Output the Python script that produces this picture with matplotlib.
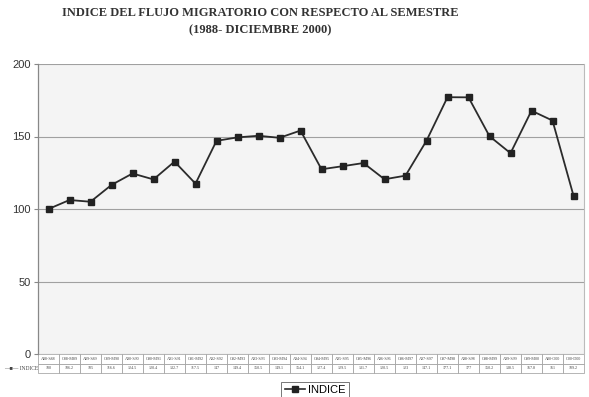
import matplotlib
matplotlib.use("Agg")
import matplotlib.pyplot as plt
from matplotlib.lines import Line2D

categories = ["A88-S88", "O88-M89", "A89-S89", "O89-M90", "A90-S90", "O90-M91",
              "A91-S91", "O91-M92", "A92-S92", "O92-M93", "A93-S93", "O93-M94",
              "A94-S94", "O94-M95", "A95-S95", "O95-M96", "A96-S96", "O96-M97",
              "A97-S97", "O97-M98", "A98-S98", "O98-M99", "A99-S99", "O99-M00",
              "A00-O00", "O00-D00"]
indice = [100, 106.2, 105, 116.6, 124.5, 120.4, 132.7, 117.5, 147, 149.4,
          150.5, 149.1, 154.1, 127.4, 129.5, 131.7, 120.5, 123, 147.1, 177.1,
          177, 150.2, 138.5, 167.8, 161, 109.2]
series_name = "INDICE"
yticks = [0, 50, 100, 150, 200]
title = "INDICE DEL FLUJO MIGRATORIO CON RESPECTO AL SEMESTRE\n(1988- DICIEMBRE 2000)"

W, H = 589, 397
fig = plt.figure(figsize=(W / 100, H / 100), dpi=100)
fig.patch.set_facecolor("white")

L, R, T, B = 38, 584, 64, 354
ax = fig.add_axes([L / W, 1 - B / H, (R - L) / W, (B - T) / H])
ax.set_facecolor("#f4f4f4")

n = len(categories)
x = list(range(n))
line, = ax.plot(x, indice, color="#2b2b2b", lw=1.3, marker="s", ms=4,
                mfc="#222222", mec="#222222", zorder=3)
ax.set_xlim(-0.5, n - 0.5)
ax.set_ylim(0, 200)
ax.set_yticks(yticks)
ax.set_yticklabels([str(t) for t in yticks], family="Liberation Sans",
                   fontsize=8, color="#333333")
ax.tick_params(axis="y", direction="out", length=3, color="#888888", pad=2)
ax.set_xticks([])
ax.grid(axis="y", color="#a0a0a0", lw=0.8)
ax.set_axisbelow(True)
for s in ["top", "bottom"]:
    ax.spines[s].set_visible(False)
ax.spines["left"].set_color("#888888")
ax.spines["right"].set_color("#bbbbbb")
ax.spines["left"].set_linewidth(0.9)
ax.spines["right"].set_linewidth(0.8)

# data table
val_str = ["{:g}".format(v) for v in indice]
cell_text = [[""] + categories, ["\u2014\u25a0\u2014 " + series_name] + val_str]
axw = R - L
axh = B - T
labw = L
tbl = ax.table(cellText=cell_text,
               colWidths=[labw / axw] + [1.0 / n] * n,
               bbox=[-labw / axw, -19 / axh, 1 + labw / axw, 19 / axh],
               cellLoc="center")
tbl.auto_set_font_size(False)
for (r, c), cell in tbl.get_celld().items():
    cell.set_linewidth(0.5)
    cell.set_edgecolor("#999999")
    cell.set_facecolor("white")
    cell.get_text().set_fontsize(3)
    cell.get_text().set_family("Liberation Serif")
    cell.get_text().set_color("#444444")
    if c == 0:
        cell.visible_edges = ""
        if r == 1:
            cell.get_text().set_fontsize(4)
            cell.get_text().set_ha("left")
            cell._loc = "left"

fig.suptitle(title, x=260 / W, y=1 - 7 / H, family="Liberation Serif",
             fontweight="bold", fontsize=9, color="#333333", linespacing=1.55, va="top")

leg = fig.legend([Line2D([0], [0], color="#2b2b2b", lw=1.2, marker="s", ms=4,
                         mfc="#222222", mec="#222222")], [series_name],
                 loc="center", bbox_to_anchor=(315 / W, 1 - 390 / H),
                 frameon=True, fancybox=False, handlelength=1.8,
                 borderpad=0.3, handletextpad=0.3,
                 prop={"family": "Liberation Sans", "size": 8})
leg.get_frame().set_edgecolor("#555555")
leg.get_frame().set_linewidth(0.7)

fig.savefig("out.png", dpi=100, facecolor="white")
